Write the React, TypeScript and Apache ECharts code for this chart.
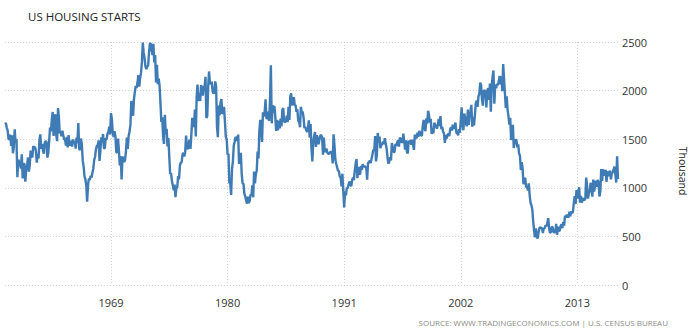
import React, { useEffect, useRef } from "react";
import * as echarts from "echarts";

const startYear = 1959;
const tickYears = [1969, 1980, 1991, 2002, 2013];
const yTicks = [0, 500, 1000, 1500, 2000, 2500];

// monthly values, thousands of units (SAAR)
const s1959_1968 = [
  1657, 1667, 1620, 1590, 1498, 1503, 1547, 1430, 1540, 1355, 1416, 1601,
  1460, 1503, 1109, 1289, 1271, 1247, 1197, 1344, 1097, 1246, 1246, 1063,
  1183, 1226, 1312, 1166, 1228, 1382, 1335, 1312, 1429, 1415, 1419, 1376,
  1258, 1350, 1302, 1492, 1549, 1401, 1451, 1383, 1350, 1466, 1481, 1473,
  1311, 1355, 1480, 1620, 1580, 1700, 1780, 1534, 1680, 1757, 1546, 1480,
  1820, 1731, 1559, 1582, 1530, 1587, 1538, 1498, 1497, 1434, 1525, 1416,
  1543, 1453, 1434, 1485, 1425, 1497, 1456, 1482, 1404, 1516, 1460, 1667,
  1400, 1390, 1507, 1449, 1279, 1220, 1118, 1087, 1026, 856, 1026, 1096,
  1080, 1125, 1105, 1158, 1199, 1287, 1320, 1400, 1431, 1440, 1488, 1276,
  1380, 1520, 1466, 1554, 1408, 1405, 1512, 1495, 1556, 1569, 1630, 1548,
];
const s1969_1978 = [
  1769, 1705, 1561, 1524, 1583, 1528, 1368, 1358, 1507, 1381, 1229, 1327,
  1085, 1305, 1319, 1264, 1290, 1385, 1517, 1399, 1534, 1580, 1647, 1893,
  1828, 1741, 1910, 1986, 2049, 2026, 2083, 2158, 2041, 2128, 2182, 2295,
  2494, 2390, 2334, 2249, 2221, 2254, 2252, 2382, 2481, 2485, 2421, 2366,
  2481, 2289, 2365, 2084, 2266, 2067, 2123, 2051, 1874, 1677, 1724, 1526,
  1451, 1752, 1555, 1607, 1426, 1513, 1316, 1142, 1150, 1070, 1026, 975,
  1032, 904, 993, 1005, 1121, 1087, 1226, 1260, 1264, 1344, 1360, 1321,
  1367, 1538, 1421, 1395, 1459, 1495, 1401, 1550, 1720, 1629, 1641, 1804,
  1527, 1943, 2063, 1892, 1971, 1893, 2058, 2020, 1949, 2042, 2042, 2142,
  1718, 1738, 2032, 2197, 2075, 2070, 2092, 1996, 1970, 1981, 2094, 2044,
];
const s1979_1988 = [
  1630, 1520, 1847, 1748, 1876, 1913, 1760, 1778, 1832, 1681, 1524, 1498,
  1341, 1350, 1047, 1051, 927, 1196, 1269, 1436, 1471, 1523, 1510, 1482,
  1547, 1246, 1306, 1360, 1140, 1045, 1041, 940, 911, 873, 837, 910,
  843, 866, 931, 917, 1025, 902, 1166, 1046, 1144, 1173, 1372, 1303,
  1586, 1699, 1606, 1472, 1776, 1733, 1785, 1910, 1710, 1715, 1785, 1688,
  1897, 2260, 1663, 1851, 1774, 1843, 1732, 1586, 1698, 1590, 1689, 1612,
  1711, 1632, 1800, 1821, 1680, 1676, 1684, 1743, 1676, 1834, 1698, 1942,
  1972, 1848, 1876, 1933, 1854, 1847, 1782, 1807, 1687, 1681, 1623, 1833,
  1774, 1784, 1726, 1614, 1628, 1594, 1575, 1605, 1695, 1515, 1656, 1400,
  1271, 1473, 1532, 1573, 1421, 1541, 1509, 1447, 1497, 1539, 1540, 1521,
];
const s1989_1998 = [
  1341, 1518, 1367, 1391, 1401, 1360, 1352, 1347, 1366, 1369, 1365, 1251,
  1551, 1437, 1289, 1248, 1212, 1177, 1171, 1115, 1110, 1014, 1145, 969,
  798, 965, 921, 1001, 996, 1036, 1063, 1049, 1015, 1079, 1103, 1079,
  1176, 1250, 1297, 1099, 1214, 1145, 1139, 1226, 1186, 1244, 1214, 1227,
  1210, 1210, 1083, 1258, 1260, 1280, 1254, 1300, 1343, 1392, 1376, 1533,
  1272, 1337, 1564, 1465, 1526, 1409, 1439, 1450, 1474, 1450, 1511, 1455,
  1407, 1316, 1249, 1267, 1314, 1281, 1461, 1416, 1369, 1369, 1452, 1431,
  1467, 1491, 1424, 1516, 1504, 1467, 1472, 1557, 1475, 1392, 1489, 1370,
  1355, 1486, 1457, 1492, 1442, 1494, 1437, 1390, 1546, 1520, 1510, 1566,
  1525, 1584, 1567, 1540, 1536, 1641, 1698, 1614, 1582, 1715, 1660, 1792,
];
const s1999_2008 = [
  1748, 1670, 1710, 1553, 1611, 1559, 1669, 1648, 1635, 1608, 1648, 1708,
  1636, 1737, 1604, 1626, 1575, 1559, 1463, 1541, 1507, 1549, 1551, 1532,
  1600, 1625, 1590, 1649, 1605, 1636, 1670, 1567, 1562, 1540, 1602, 1568,
  1698, 1829, 1642, 1592, 1764, 1717, 1655, 1633, 1804, 1648, 1753, 1788,
  1853, 1629, 1726, 1643, 1751, 1867, 1897, 1833, 1939, 1967, 2083, 2057,
  1911, 1846, 1998, 2003, 1981, 1828, 2002, 2024, 1905, 2072, 1782, 2042,
  2144, 2207, 1864, 2061, 2025, 2068, 2054, 2095, 2151, 2065, 2147, 1994,
  2273, 2119, 1969, 1821, 1942, 1802, 1737, 1650, 1720, 1491, 1570, 1649,
  1409, 1480, 1495, 1490, 1415, 1448, 1354, 1330, 1183, 1264, 1197, 1037,
  1084, 1103, 1005, 1013, 973, 1046, 923, 844, 820, 777, 652, 560,
];
const s2009_2016 = [
  490, 582, 505, 478, 540, 585, 594, 586, 585, 534, 588, 581,
  614, 604, 636, 687, 583, 536, 546, 599, 594, 543, 545, 539,
  630, 517, 600, 554, 561, 608, 623, 585, 650, 610, 711, 694,
  723, 704, 695, 753, 708, 757, 741, 754, 847, 915, 833, 976,
  888, 962, 1005, 847, 917, 847, 894, 876, 873, 889, 1105, 1016,
  888, 947, 962, 1052, 985, 909, 1084, 962, 1025, 1074, 1010, 1081,
  1053, 910, 964, 1193, 1072, 1190, 1150, 1127, 1185, 1062, 1168, 1147,
  1121, 1178, 1087, 1153, 1158, 1188, 1217, 1142, 1054, 1323, 1090,
];

const values = [
  ...s1959_1968,
  ...s1969_1978,
  ...s1979_1988,
  ...s1989_1998,
  ...s1999_2008,
  ...s2009_2016,
];
const categories = values.map((_, i) => {
  const y = startYear + Math.floor(i / 12);
  const m = (i % 12) + 1;
  return `${y}-${m < 10 ? "0" + m : m}`;
});

const isTick = (idx: number, val: string) => {
  const [y, m] = val.split("-");
  return m === "01" && tickYears.includes(Number(y));
};

export default function App() {
  const ref = useRef<HTMLDivElement>(null);
  useEffect(() => {
    if (!ref.current) return;
    const chart = echarts.init(ref.current, undefined, { renderer: "svg" });
    const font = "'Open Sans', 'DejaVu Sans', sans-serif";
    chart.setOption({
      animation: false,
      backgroundColor: "#ffffff",
      textStyle: { fontFamily: font },
      grid: { left: 5, right: 76, top: 42, bottom: 46, containLabel: false },
      xAxis: {
        type: "category",
        data: categories,
        boundaryGap: false,
        axisLine: { show: false },
        axisTick: { show: false, interval: isTick },
        axisLabel: {
          interval: isTick,
          formatter: (v: string) => v.slice(0, 4),
          color: "#333",
          fontSize: 11,
          fontFamily: font,
          margin: 12,
        },
        splitLine: {
          show: true,
          interval: isTick,
          lineStyle: { color: "#d2d2d2", type: [1, 2], width: 1 },
        },
      },
      yAxis: {
        type: "value",
        position: "right",
        min: yTicks[0],
        max: yTicks[yTicks.length - 1],
        interval: 500,
        axisLine: { show: false },
        axisTick: { show: false },
        axisLabel: {
          color: "#333",
          fontSize: 11,
          fontFamily: font,
          margin: 4,
          formatter: (v: number) => String(v),
        },
        splitLine: {
          show: true,
          lineStyle: { color: "#d2d2d2", type: [1, 2], width: 1 },
        },
      },
      series: [
        {
          type: "line",
          data: values,
          showSymbol: false,
          symbol: "none",
          lineStyle: { color: "#3f7cb5", width: 2.4 },
          itemStyle: { color: "#3f7cb5" },
        },
      ],
      graphic: [
        {
          type: "text",
          left: 28,
          top: 10,
          style: {
            text: "US HOUSING STARTS",
            fill: "#222",
            fontSize: 11.5,
            fontFamily: font,
          },
        },
        {
          type: "text",
          x: 683,
          y: 171,
          rotation: -Math.PI / 2,
          style: {
            text: "Thousand",
            fill: "#222",
            fontSize: 10.5,
            fontFamily: font,
            align: "center",
            verticalAlign: "middle",
          },
        },
        {
          type: "text",
          right: 26,
          top: 318,
          style: {
            text: "SOURCE: WWW.TRADINGECONOMICS.COM | U.S. CENSUS BUREAU",
            fill: "#8a8a8a",
            fontSize: 8,
            fontFamily: font,
          },
        },
      ],
    });
    return () => chart.dispose();
  }, []);
  return (
    <div
      ref={ref}
      style={{ position: "fixed", left: 0, top: 0, width: 694, height: 331 }}
    />
  );
}
